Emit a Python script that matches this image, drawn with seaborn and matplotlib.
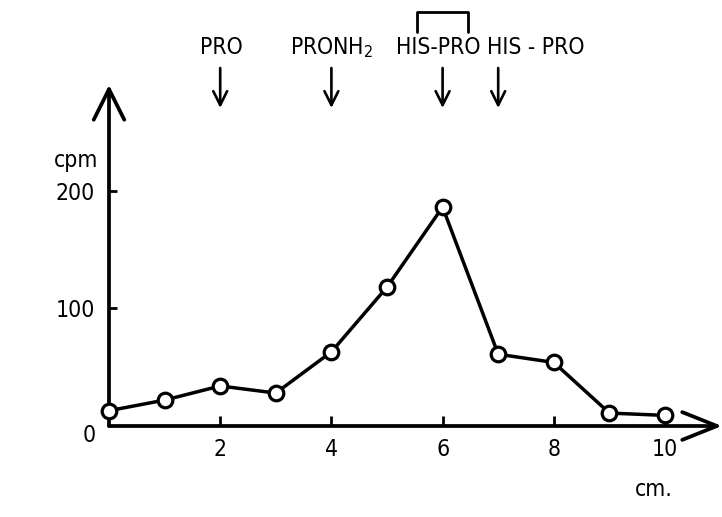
import matplotlib
matplotlib.use('Agg')
import matplotlib.pyplot as plt
import matplotlib.transforms as mtransforms
import seaborn as sns
import pandas as pd

# ---- data ----
distance_cm = [0, 1, 2, 3, 4, 5, 6, 7, 8, 9, 10]
cpm = [13, 22, 34, 28, 63, 118, 186, 61, 54, 11, 9]
x_ticks = [2, 4, 6, 8, 10]
x_tick_labels = ['2', '4', '6', '8', '10']
y_ticks = [100, 200]
y_tick_labels = ['100', '200']
marker_arrow_x = [2, 4, 6, 7]
marker_text_x = [2.02, 4.0, 5.93, 7.68]
marker_labels = ['PRO', 'PRONH$_2$', 'HIS-PRO', 'HIS - PRO']

sns.set_style('white')
plt.rcParams['font.family'] = ['DejaVu Sans']
plt.rcParams['font.stretch'] = 'condensed'
plt.rcParams['text.color'] = 'black'
plt.rcParams['xtick.color'] = 'black'
plt.rcParams['ytick.color'] = 'black'
plt.rcParams['mathtext.fontset'] = 'dejavusans'

FS = 16.5

fig = plt.figure(figsize=(7.22, 5.17), dpi=100)
ax = fig.add_axes([109 / 722, 91 / 517, 1 - 109 / 722, 341 / 517])

df = pd.DataFrame({'cm': distance_cm, 'cpm': cpm})
sns.lineplot(data=df, x='cm', y='cpm', ax=ax, color='black', linewidth=2.5,
             marker='o', markersize=10.5, markerfacecolor='white',
             markeredgecolor='black', markeredgewidth=2.3, clip_on=False, zorder=6)

ax.set_xlim(0, 613 / 55.6)
ax.set_ylim(0, 341 / 1.177)
for s in ax.spines.values():
    s.set_visible(False)

ax.set_xticks(x_ticks)
ax.set_xticklabels(x_tick_labels)
ax.set_yticks(y_ticks)
ax.set_yticklabels(y_tick_labels)
ax.tick_params(axis='x', bottom=True, direction='in', length=7, width=2, pad=9,
               labelsize=FS, color='black', labelcolor='black')
ax.tick_params(axis='y', left=True, direction='in', length=6, width=2, pad=10,
               labelsize=FS, color='black', labelcolor='black')
ax.set_xlabel('')
ax.set_ylabel('')

# axes with open arrowheads
ax.annotate('', xy=(1.0, 0), xycoords='axes fraction', xytext=(0, 0),
            arrowprops=dict(arrowstyle='->,head_length=1.25,head_width=0.5', lw=2.7,
                            color='black', mutation_scale=20, shrinkA=0, shrinkB=0), zorder=4)
ax.annotate('', xy=(0, 1.0), xycoords='axes fraction', xytext=(0, 0),
            arrowprops=dict(arrowstyle='->,head_length=1.1,head_width=0.55', lw=2.7,
                            color='black', mutation_scale=20, shrinkA=0, shrinkB=0), zorder=4)

# origin label
ax.annotate('0', xy=(0, 0), xycoords='data', xytext=(-14, -7), textcoords='offset points',
            ha='center', va='center', fontsize=FS, annotation_clip=False)

# axis titles
fig.text(76 / 722, 1 - 160 / 517, 'cpm', ha='center', va='center', fontsize=FS)
fig.text(654 / 722, 1 - 490 / 517, 'cm.', ha='center', va='center', fontsize=FS)

# reference markers on top
trans = mtransforms.blended_transform_factory(ax.transData, fig.transFigure)
for ax_x, tx, lab in zip(marker_arrow_x, marker_text_x, marker_labels):
    ax.text(tx, 1 - 48 / 517, lab, transform=trans, ha='center', va='center', fontsize=FS)
    ax.annotate('', xy=(ax_x, 1 - 108 / 517), xycoords=trans,
                xytext=(ax_x, 1 - 68 / 517), textcoords=trans,
                arrowprops=dict(arrowstyle='->,head_length=0.5,head_width=0.25', lw=1.9,
                                color='black', mutation_scale=20, shrinkA=0, shrinkB=0),
                annotation_clip=False)

# bracket over first HIS-PRO
bx0, bx1 = (417 - 109) / 55.6, (468 - 109) / 55.6
ax.plot([bx0, bx0, bx1, bx1], [1 - 32 / 517, 1 - 12 / 517, 1 - 12 / 517, 1 - 32 / 517],
        transform=trans, color='black', lw=2, clip_on=False)

fig.savefig('out.png', dpi=100)
